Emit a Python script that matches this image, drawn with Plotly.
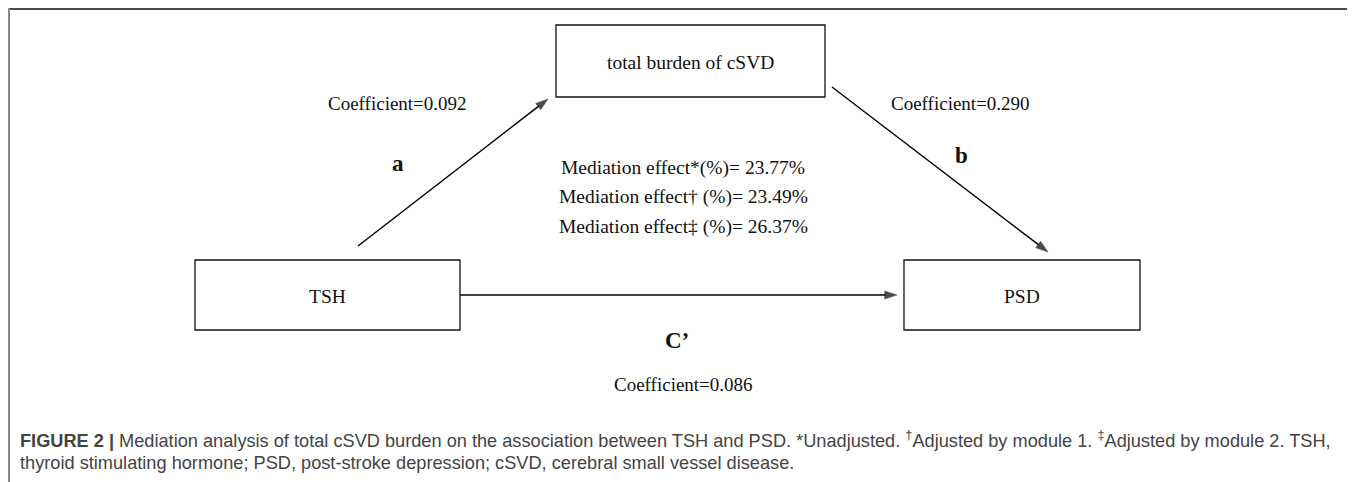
import plotly.graph_objects as go

# ---- data ----
node_labels = ["total burden of cSVD", "TSH", "PSD"]
path_labels = ["a", "b", "C’"]
path_coefficients = [0.092, 0.290, 0.086]
mediation_marks = ["*", "†", "‡"]
mediation_effects = [23.77, 23.49, 26.37]
caption_lines = [
    "<b>FIGURE 2 |</b> Mediation analysis of total cSVD burden on the association between TSH and PSD. *Unadjusted. "
    "<sup>†</sup>Adjusted by module 1. <sup>‡</sup>Adjusted by module 2. TSH,",
    "thyroid stimulating hormone; PSD, post-stroke depression; cSVD, cerebral small vessel disease.",
]

W, H = 1355, 482
OFF = 8  # page body margin of the browser
SERIF = "Liberation Serif, Times New Roman, serif"
SANS = "Liberation Sans, Arial, sans-serif"

fig = go.Figure()

# boxes (x0, y0, x1, y1) in page pixels
boxes = [(556, 25, 825, 97), (195, 260, 460, 330), (904, 260, 1140, 330)]
shapes = []
for (x0, y0, x1, y1) in boxes:
    shapes.append(dict(type="rect", x0=x0, y0=y0, x1=x1, y1=y1, xref="x", yref="y",
                       line=dict(color="#111", width=1.3), fillcolor="rgba(0,0,0,0)"))
# frame lines
shapes.append(dict(type="line", x0=OFF, y0=9, x1=W, y1=9, xref="x", yref="y", line=dict(color="#4a4a4a", width=2)))
shapes.append(dict(type="line", x0=9, y0=OFF, x1=9, y1=H, xref="x", yref="y", line=dict(color="#8a8a8a", width=2)))

# arrows: (tail x, tail y, head x, head y) drawn as line traces with arrow markers at the head
arrows = [(358, 246, 548, 99), (832, 87, 1048, 252), (460, 295, 897, 295)]
for (tx, ty, hx, hy) in arrows:
    fig.add_trace(go.Scatter(
        x=[tx, hx], y=[ty, hy], mode="lines+markers",
        line=dict(color="#000", width=1.4),
        marker=dict(symbol=["circle", "arrow"], size=[0, 13], color="#000", angleref="previous",
                    line=dict(width=0.5, color="#000")),
        hoverinfo="skip", showlegend=False, cliponaxis=False))

annotations = []
for (x0, y0, x1, y1), lab in zip(boxes, node_labels):
    annotations.append(dict(x=(x0 + x1) / 2, y=(y0 + y1) / 2 + 1, text=lab, showarrow=False,
                            xref="x", yref="y", xanchor="center", yanchor="middle",
                            font=dict(family=SERIF, size=19.5, color="#111")))

# path letters
letter_pos = [(398, 163), (961, 155), (677, 340)]
for (x, y), lab in zip(letter_pos, path_labels):
    annotations.append(dict(x=x, y=y, text=f"<b>{lab}</b>", showarrow=False, xref="x", yref="y",
                            xanchor="center", yanchor="middle", font=dict(family=SERIF, size=23, color="#111")))

# coefficients
coef_pos = [(397, 103), (960, 103), (683, 384)]
for (x, y), c in zip(coef_pos, path_coefficients):
    annotations.append(dict(x=x, y=y, text=f"Coefficient={c:.3f}", showarrow=False, xref="x", yref="y",
                            xanchor="center", yanchor="middle", font=dict(family=SERIF, size=19, color="#111")))

# mediation effects
med_y = [168, 197, 227]
for y, m, v in zip(med_y, mediation_marks, mediation_effects):
    sep = "" if m == "*" else " "
    annotations.append(dict(x=683, y=y, text=f"Mediation effect{m}{sep}(%)= {v:.2f}%", showarrow=False,
                            xref="x", yref="y", xanchor="center", yanchor="middle",
                            font=dict(family=SERIF, size=19.5, color="#111")))

# caption
cap_y = [439, 463]
for y, line in zip(cap_y, caption_lines):
    annotations.append(dict(x=18, y=y, text=line, showarrow=False, xref="x", yref="y",
                            xanchor="left", yanchor="middle", font=dict(family=SANS, size=18.2, color="#444")))

fig.update_layout(
    width=W - OFF, height=H - OFF, margin=dict(l=0, r=0, t=0, b=0),
    paper_bgcolor="white", plot_bgcolor="white",
    xaxis=dict(range=[OFF, W], visible=False, fixedrange=True),
    yaxis=dict(range=[H, OFF], visible=False, fixedrange=True),
    shapes=shapes, annotations=annotations, showlegend=False,
)
fig.write_html("out.html")
